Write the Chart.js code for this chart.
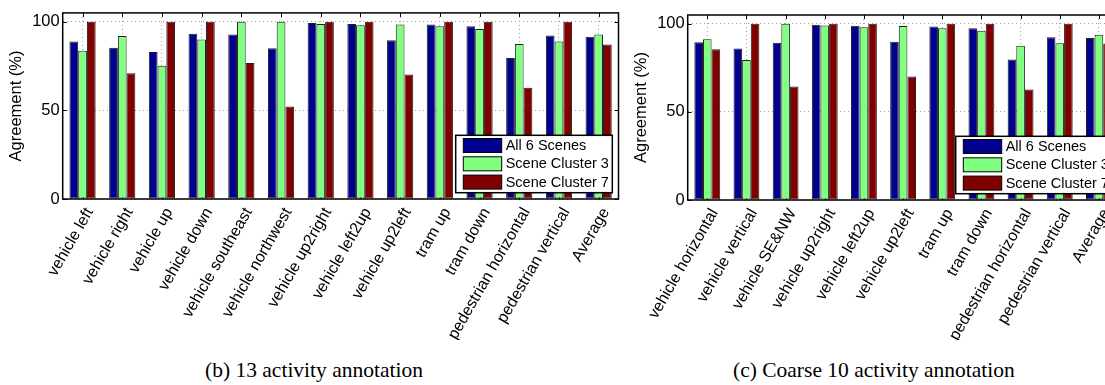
<!DOCTYPE html>
<html><head><meta charset="utf-8">
<script src="https://cdn.jsdelivr.net/npm/chart.js@4/dist/chart.umd.min.js"></script>
<style>
html,body{margin:0;padding:0;background:#fff;overflow:hidden;width:1105px;height:385px;position:relative;}
#wrapB{position:absolute;left:0;top:0;width:622px;height:340px;}
#wrapC{position:absolute;left:625px;top:0;width:497px;height:340px;}
.cap{position:absolute;font-family:'Liberation Serif','Times New Roman',serif;font-size:21.5px;line-height:1;white-space:nowrap;color:#000;}
</style></head>
<body>
<div id="wrapB"><canvas id="cB"></canvas></div>
<div id="wrapC"><canvas id="cC"></canvas></div>
<div class="cap" style="left:205px;top:359.5px">(b) 13 activity annotation</div>
<div class="cap" style="left:733px;top:359.5px">(c) Coarse 10 activity annotation</div>
<script>
const seriesNames = ['All 6 Scenes', 'Scene Cluster 3', 'Scene Cluster 7'];
const seriesColors = ['#00008f', '#80ff80', '#800000'];
const yTicks = [0, 50, 100];
const yMax = 105;

const categoriesB = ['vehicle left','vehicle right','vehicle up','vehicle down','vehicle southeast','vehicle northwest','vehicle up2right','vehicle left2up','vehicle up2left','tram up','tram down','pedestrian horizontal','pedestrian vertical','Average'];
const all6B     = [88.9, 85.4, 83.0, 93.3, 92.8, 85.0, 99.3, 98.7, 89.6, 98.5, 97.4, 79.6, 92.2, 91.5];
const cluster3B = [83.7, 92.0, 75.2, 90.0, 100, 100, 98.7, 98.1, 98.5, 97.4, 95.9, 87.4, 88.9, 92.8];
const cluster7B = [100, 70.9, 100, 100, 76.7, 52.2, 100, 100, 70.2, 100, 100, 62.8, 100, 87.2];

const categoriesC = ['vehicle horizontal','vehicle vertical','vehicle SE&NW','vehicle up2right','vehicle left2up','vehicle up2left','tram up','tram down','pedestrian horizontal','pedestrian vertical','Average'];
const all6C     = [89.6, 86.0, 89.2, 99.4, 98.9, 89.8, 98.5, 97.5, 79.7, 92.4, 92.0];
const cluster3C = [91.3, 79.5, 100, 99.1, 98.1, 98.7, 97.5, 96.0, 87.5, 89.0, 93.8];
const cluster7C = [85.6, 100, 64.4, 100, 100, 70.1, 100, 100, 62.7, 100, 88.8];

const FONT = "'Liberation Sans', Arial, sans-serif";
const LABEL_ANGLE = 60;

const decorPlugin = {
  id: 'decor',
  beforeDatasetsDraw(chart) {
    const {ctx, chartArea: a, scales: {x, y}} = chart;
    ctx.save();
    ctx.strokeStyle = '#000';
    ctx.lineWidth = 1;
    const tl = 4;
    ctx.beginPath();
    x.ticks.forEach((t, i) => {
      const px = Math.round(x.getPixelForTick(i)) + 0.5;
      ctx.moveTo(px, a.top); ctx.lineTo(px, a.top + tl);
      ctx.moveTo(px, a.bottom); ctx.lineTo(px, a.bottom - tl);
    });
    y.ticks.forEach(t => {
      const py = Math.round(y.getPixelForValue(t.value)) + 0.5;
      ctx.moveTo(a.left, py); ctx.lineTo(a.left + tl, py);
      ctx.moveTo(a.right, py); ctx.lineTo(a.right - tl, py);
    });
    ctx.stroke();
    ctx.restore();
  },
  afterDraw(chart) {
    const {ctx, chartArea: a, scales: {x}} = chart;
    ctx.save();
    // rotated category labels: baseline end anchored just right of / below the tick
    ctx.font = '16px ' + FONT;
    ctx.fillStyle = '#000';
    ctx.textAlign = 'right';
    ctx.textBaseline = 'alphabetic';
    chart.data.labels.forEach((lab, i) => {
      const px = x.getPixelForTick(i) + 11;
      const py = a.bottom + 12.5;
      ctx.save();
      ctx.translate(px, py);
      ctx.rotate(-LABEL_ANGLE * Math.PI / 180);
      ctx.fillText(lab, 0, 0);
      ctx.restore();
    });
    // frame
    ctx.strokeStyle = '#000';
    ctx.lineWidth = 1.5;
    ctx.strokeRect(a.left, a.top, a.right - a.left, a.bottom - a.top);
    // legend
    const lw = 156.6, lh = 57.4;
    const bx = a.right - 6.2 - lw, by = a.bottom - 6.3 - lh;
    ctx.fillStyle = '#fff';
    ctx.fillRect(bx, by, lw, lh);
    ctx.strokeRect(bx, by, lw, lh);
    ctx.font = '14.5px ' + FONT;
    ctx.textBaseline = 'middle';
    ctx.textAlign = 'left';
    chart.data.datasets.forEach((ds, i) => {
      const cy = by + 10.2 + i * 18.3;
      ctx.fillStyle = ds.backgroundColor;
      ctx.fillRect(bx + 7.6, cy - 7, 38.4, 14);
      ctx.lineWidth = 1;
      ctx.strokeStyle = '#000';
      ctx.strokeRect(bx + 7.6, cy - 7, 38.4, 14);
      ctx.fillStyle = '#000';
      ctx.fillText(ds.label, bx + 50, cy + 0.5);
    });
    ctx.restore();
  }
};

function makeChart(id, cats, s1, s2, s3, topPad, xHeight) {
  const data = {
    labels: cats,
    datasets: [s1, s2, s3].map((d, i) => ({
      label: seriesNames[i],
      data: d,
      backgroundColor: seriesColors[i],
      borderColor: '#222',
      borderWidth: 1,
      borderSkipped: false,
      barPercentage: 1,
      categoryPercentage: 0.66
    }))
  };
  return new Chart(document.getElementById(id), {
    type: 'bar',
    data,
    plugins: [decorPlugin],
    options: {
      responsive: true,
      maintainAspectRatio: false,
      animation: false,
      events: [],
      layout: {padding: {top: topPad, right: 3.5, left: 0, bottom: 0}},
      plugins: {legend: {display: false}, tooltip: {enabled: false}},
      scales: {
        x: {
          offset: true,
          grid: {display: true, offset: false, color: '#a0a0a0', lineWidth: 1, drawTicks: false},
          border: {display: false, dash: [1, 3]},
          ticks: {display: false, autoSkip: false},
          afterFit(scale) { scale.height = xHeight; }
        },
        y: {
          min: 0, max: yMax,
          grid: {display: true, color: '#a0a0a0', lineWidth: 1, drawTicks: false},
          border: {display: false, dash: [1, 3]},
          afterBuildTicks(scale) { scale.ticks = yTicks.map(v => ({value: v})); },
          ticks: {padding: 3, color: '#000', font: {family: FONT, size: 16.5}},
          title: {display: true, text: 'Agreement (%)', color: '#000',
                  font: {family: FONT, size: 16.5}, padding: {top: 7, bottom: 0}},
          afterFit(scale) { scale.width = 62.7; }
        }
      }
    }
  });
}

makeChart('cB', categoriesB, all6B, cluster3B, cluster7B, 10.5, 141);
makeChart('cC', categoriesC, all6C, cluster3C, cluster7C, 15, 140);
</script>
</body></html>
